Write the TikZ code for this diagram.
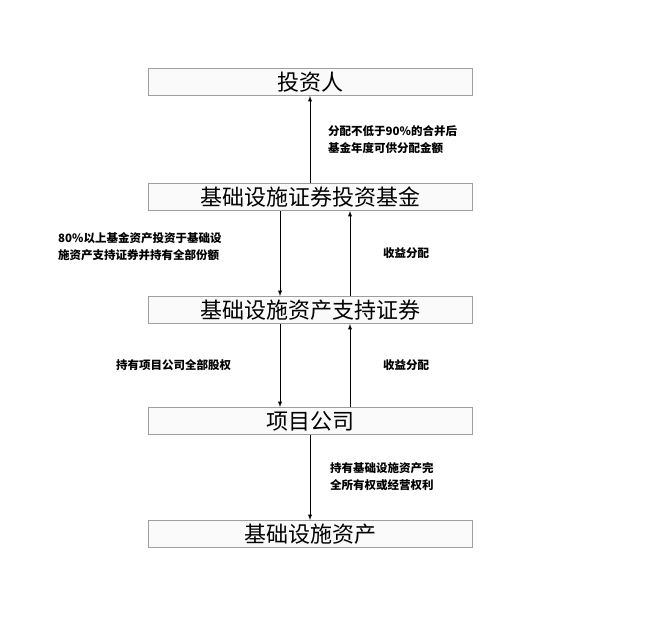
\documentclass[tikz,border=0pt]{standalone}
\usepackage{fontspec}
\setmainfont{Noto Sans CJK SC}
\begin{document}
\begin{tikzpicture}[x=1pt,y=-1pt]
% Definição de estilos
\tikzset{
  entity/.style={rectangle, draw=gray!75, fill=gray!4, line width=0.9pt, minimum width=324pt, minimum height=27pt, inner sep=0pt, font=\fontsize{22}{22}\selectfont},
  note/.style={font=\bfseries\fontsize{11.5}{17}\selectfont, align=left, anchor=west, inner sep=0pt},
  flow/.style={->, >=latex, line width=0.9pt}
}
\useasboundingbox (0,0) rectangle (652,624);

% Caixas
\node[entity] (investor) at (310,82) {投资人};
\node[entity] (fund) at (310,197) {基础设施证券投资基金};
\node[entity] (abs) at (310,310) {基础设施资产支持证券};
\node[entity] (company) at (310,421) {项目公司};
\node[entity] (asset) at (310,534) {基础设施资产};

% Relacionamentos
\draw[flow] (fund.north) -- (investor.south);
\draw[flow] ([xshift=-30pt]fund.south) -- ([xshift=-30pt]abs.north);
\draw[flow] ([xshift=40pt]abs.north) -- ([xshift=40pt]fund.south);
\draw[flow] ([xshift=-30pt]abs.south) -- ([xshift=-30pt]company.north);
\draw[flow] ([xshift=40pt]company.north) -- ([xshift=40pt]abs.south);
\draw[flow] (company.south) -- (asset.north);

% Rótulos
\node[note] (l1) at (328,140) {分配不低于90\%的合并后\\基金年度可供分配金额};
\node[note] (l2) at (58,247) {80\%以上基金资产投资于基础设\\施资产支持证券并持有全部份额};
\node[note] (l3) at (383,253) {收益分配};
\node[note] (l4) at (116,365) {持有项目公司全部股权};
\node[note] (l5) at (383,365) {收益分配};
\node[note] (l6) at (330,477) {持有基础设施资产完\\全所有权或经营权利};
\end{tikzpicture}
\end{document}
